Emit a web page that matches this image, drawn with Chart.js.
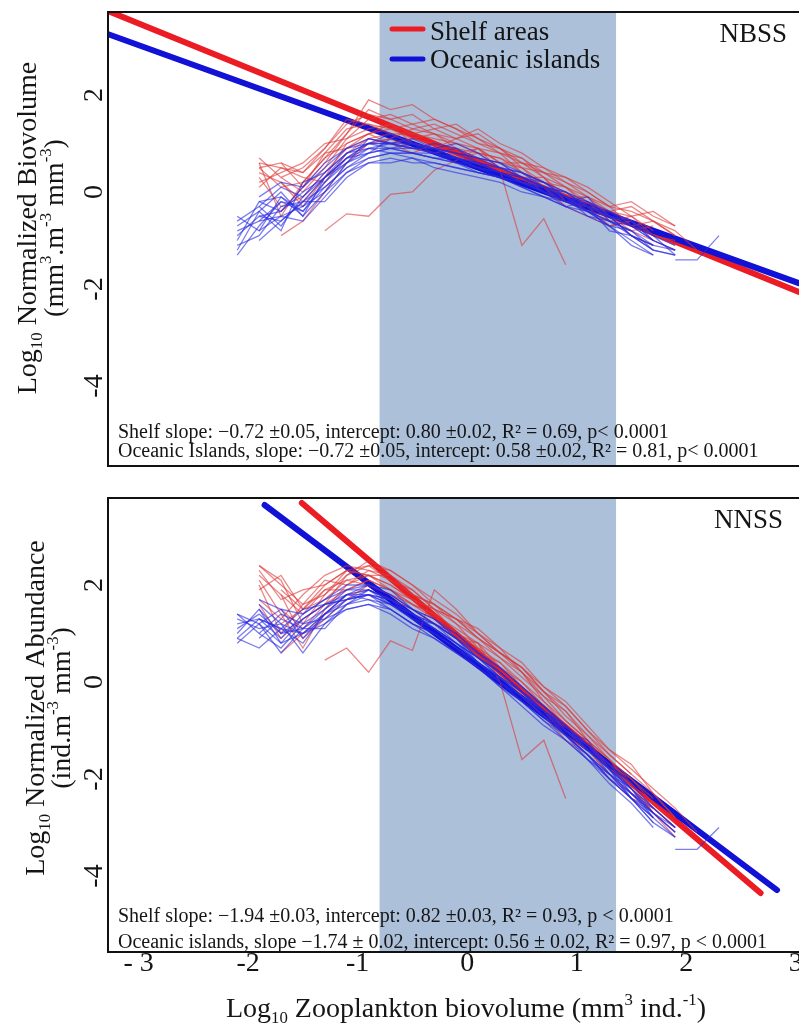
<!DOCTYPE html>
<html>
<head>
<meta charset="utf-8">
<script src="https://cdn.jsdelivr.net/npm/chart.js@4.4.1/dist/chart.umd.min.js"></script>
<style>
  html, body { margin: 0; padding: 0; background: #fff; }
  #wrap { position: relative; width: 799px; height: 1024px; overflow: hidden; }
  #nbss { position: absolute; left: 0; top: 0; }
  #nnss { position: absolute; left: 0; top: 480px; }
</style>
</head>
<body>
<div id="wrap">
  <canvas id="nbss" width="840" height="480"></canvas>
  <canvas id="nnss" width="840" height="544"></canvas>
</div>
<script>
// size classes (log10 zooplankton biovolume) shared by every spectrum
const sizeBins = [-2.1, -1.9, -1.7, -1.5, -1.3, -1.1, -0.9, -0.7, -0.5, -0.3, -0.1, 0.1, 0.3, 0.5, 0.7, 0.9, 1.1, 1.3, 1.5, 1.7, 1.9, 2.1, 2.3];

// NBSS, one row per station
const nbssShelf = [
    [null, 0.7, 0.3, 0.5, 0.9, 1.4, 1.6, 1.5, 1.3, 1.4, 1.2, 1.0, 0.9, 0.6, 0.5, 0.2, -0.1, -0.4, -0.5, -0.8, null, null, null],
    [null, 0.5, 0.6, 0.1, 0.6, 1.2, 1.9, 1.7, 1.8, 1.5, 1.3, 1.1, 0.8, 0.7, 0.3, 0.1, -0.3, -0.5, -0.7, -0.6, -0.9, null, null],
    [null, 0.3, -0.3, -0.1, 0.4, 0.9, 1.2, 1.3, 1.1, 1.0, 0.9, 0.8, 0.7, 0.4, 0.2, 0.0, -0.2, -0.6, -0.5, -0.9, -1.1, null, null],
    [null, 0.6, 0.5, 0.3, 0.2, 0.8, 1.1, 1.2, 1.2, 1.3, 1.4, 1.1, 0.9, 0.5, 0.4, 0.1, -0.1, -0.3, -0.7, -0.9, null, null, null],
    [null, null, null, null, -0.8, -0.45, -0.5, -0.05, 0.0, 0.45, 0.65, 0.9, 0.6, 0.5, 0.2, 0.0, -0.3, -0.4, -0.6, null, null, null, null],
    [null, 0.4, 0.2, -0.3, 0.3, 0.7, 1.0, 1.1, 0.9, 0.8, 0.9, 0.7, 0.6, 0.3, 0.0, -0.2, -0.4, -0.6, -0.8, -1.0, -1.2, null, null],
    [null, null, 0.6, 0.4, 0.8, 1.3, 1.4, 1.2, 1.0, 0.9, 0.8, 0.9, 0.45, -1.1, -0.55, -1.5, null, null, null, null, null, null, null],
    [null, 0.2, 0.4, 0.6, 1.0, 1.1, 1.3, 1.4, 1.2, 1.1, 1.0, 0.9, 0.8, 0.6, 0.4, 0.2, 0.0, -0.3, -0.4, -0.6, -0.8, -1.2, null],
    [null, null, -0.9, -0.6, 0.0, 0.6, 1.0, 1.1, 1.3, 1.2, 1.1, 1.3, 1.0, 0.8, 0.5, 0.3, 0.1, -0.2, -0.5, -0.4, -0.7, null, null],
    [null, 0.5, 0.1, 0.2, 0.7, 1.0, 1.2, 1.0, 1.1, 1.2, 0.9, 0.6, 0.5, 0.2, 0.1, -0.3, -0.5, -0.7, -0.6, -0.9, -1.0, null, null],
    [null, null, 0.3, 0.0, 0.5, 1.1, 1.5, 1.6, 1.4, 1.2, 1.0, 0.8, 0.7, 0.5, 0.1, -0.1, -0.4, -0.5, -0.9, -1.1, null, null, null],
    [null, 0.6, -0.5, 0.2, 0.7, 1.2, 1.7, 1.5, 1.6, 1.3, 1.1, 1.2, 0.9, 0.7, 0.4, 0.3, 0.0, -0.3, -0.2, -0.5, -0.7, null, null],
    [null, null, 0.2, -0.2, 0.3, 1.0, 1.2, 1.4, 1.0, 0.9, 1.1, 0.9, 0.6, 0.6, 0.3, -0.1, -0.1, -0.5, -0.8, -0.7, null, null, null],
    [null, 0.1, 0.5, 0.4, 0.9, 1.5, 1.4, 1.3, 1.4, 1.5, 1.3, 1.0, 0.8, 0.4, 0.2, 0.1, -0.2, -0.4, -0.3, -0.6, -0.9, null, null],
    [null, null, -0.4, 0.1, 0.8, 0.9, 1.1, 1.0, 0.8, 1.0, 0.7, 0.8, 0.5, 0.3, 0.3, -0.2, -0.3, -0.7, -0.6, null, null, null, null]
];
const nbssOceanic = [
    [-0.9, -0.5, -0.6, -0.2, 0.3, 0.7, 0.9, 1.0, 0.9, 0.9, 0.8, 0.6, 0.5, 0.3, 0.1, -0.1, -0.3, -0.5, -0.9, -1.1, null, null, null],
    [-1.3, -0.7, -0.2, -0.4, 0.1, 0.5, 0.8, 0.9, 0.8, 0.7, 0.6, 0.5, 0.4, 0.2, 0.0, -0.2, -0.4, -0.6, -0.8, -1.2, -1.3, null, null],
    [-0.6, -0.3, 0.1, -0.1, 0.4, 0.8, 1.0, 1.0, 1.1, 0.9, 0.8, 0.7, 0.5, 0.4, 0.2, -0.1, -0.2, -0.5, -0.7, -1.0, null, null, null],
    [null, -0.8, -0.5, -0.6, -0.1, 0.4, 0.7, 0.8, 0.8, 0.7, 0.7, 0.5, 0.3, 0.2, 0.1, -0.1, -0.5, -0.7, -1.0, -1.3, null, null, null],
    [-1.0, -0.2, -0.4, 0.1, 0.5, 0.9, 1.1, 1.0, 0.9, 1.0, 0.9, 0.7, 0.6, 0.3, 0.2, 0.0, -0.3, -0.4, -0.6, -0.9, -1.1, null, null],
    [null, -0.6, -0.2, -0.3, 0.2, 0.6, 0.8, 1.1, 1.0, 0.8, 0.7, 0.6, 0.5, 0.3, 0.1, -0.2, -0.3, -0.8, -0.9, -1.1, null, null, null],
    [-0.7, -0.4, 0.0, -0.5, 0.0, 0.6, 0.9, 0.9, 0.9, 0.8, 0.9, 0.6, 0.4, 0.2, 0.0, -0.2, -0.1, -0.6, -0.8, null, null, null, null],
    [null, -0.3, -0.7, -0.1, 0.3, 0.8, 1.0, 0.9, 0.8, 0.8, 0.6, 0.4, 0.3, 0.1, -0.1, -0.3, -0.5, -0.6, -0.9, -1.2, -1.3, null, null],
    [-1.1, -0.9, -0.3, -0.2, 0.1, 0.5, 0.7, 0.8, 0.7, 0.6, 0.5, 0.4, 0.3, 0.2, 0.0, -0.1, -0.3, -0.5, -0.7, -1.0, -1.2, null, null],
    [null, -0.1, 0.2, 0.1, 0.6, 0.9, 1.0, 1.0, 0.9, 0.9, 0.8, 0.7, 0.6, 0.4, 0.2, -0.1, -0.4, -0.5, -0.6, -1.0, null, null, null],
    [null, -0.5, -0.4, 0.0, 0.3, 0.7, 0.8, 0.9, 1.0, 0.8, 0.7, 0.6, 0.4, 0.3, 0.1, 0.0, -0.2, -0.4, -0.7, null, -1.4, -1.4, -0.9],
    [-0.8, -0.6, -0.5, -0.3, 0.0, 0.4, 0.6, 0.7, 0.6, 0.6, 0.5, 0.4, 0.3, 0.1, -0.1, -0.2, -0.4, -0.7, -0.8, -1.1, -1.2, null, null],
    [-0.5, -0.8, -0.1, -0.4, 0.2, 0.7, 1.0, 1.2, 1.0, 0.9, 1.0, 0.8, 0.5, 0.4, 0.1, 0.0, -0.3, -0.5, -0.6, -1.0, -1.2, null, null],
    [null, -1.0, -0.6, -0.2, -0.2, 0.3, 0.6, 0.6, 0.7, 0.5, 0.4, 0.3, 0.2, 0.0, -0.1, -0.3, -0.4, -0.7, -1.1, -1.3, null, null, null],
    [-1.2, -0.4, -0.8, 0.2, 0.4, 0.8, 0.9, 0.8, 0.8, 0.7, 0.6, 0.6, 0.4, 0.2, 0.1, -0.1, -0.4, -0.6, -0.7, -0.9, -1.3, null, null],
    [null, -0.2, -0.1, -0.5, 0.3, 0.6, 1.1, 1.0, 1.0, 0.9, 0.7, 0.5, 0.4, 0.3, 0.0, -0.3, -0.2, -0.5, -0.9, -1.2, null, null, null]
];

// NNSS, one row per station
const nnssShelf = [
    [null, 2.3, 1.7, 1.9, 2.0, 2.3, 2.4, 2.1, 1.8, 1.6, 1.3, 0.9, 0.6, 0.2, -0.2, -0.7, -1.1, -1.6, -2.0, -2.4, null, null, null],
    [null, 2.4, 2.1, 1.2, 1.8, 2.2, 2.5, 2.3, 2.0, 1.7, 1.4, 1.0, 0.7, 0.4, -0.1, -0.5, -1.0, -1.5, -1.9, -2.3, -2.8, null, null],
    [null, 1.6, 0.9, 1.3, 1.6, 1.9, 2.1, 1.9, 1.6, 1.4, 1.1, 0.8, 0.5, 0.1, -0.3, -0.8, -1.2, -1.8, -2.1, -2.6, -3.0, null, null],
    [null, 2.1, 1.4, 0.7, 1.5, 2.0, 2.2, 2.0, 1.7, 1.5, 1.2, 0.7, 0.3, -0.1, -0.6, -1.0, -1.3, -1.7, -2.2, -2.7, null, null, null],
    [null, null, null, null, 0.45, 0.7, 0.2, 0.85, 0.65, 1.9, 1.5, 1.0, 0.6, 0.3, -0.2, -0.6, -1.1, -1.5, -1.9, null, null, null, null],
    [null, 1.9, 2.2, 1.5, 1.7, 2.1, 2.0, 1.8, 1.5, 1.2, 0.9, 0.6, 0.2, -0.2, -0.6, -1.1, -1.4, -1.9, -2.3, -2.7, -3.1, null, null],
    [null, null, 1.9, 1.5, 2.0, 2.3, 2.2, 2.0, 1.7, 1.3, 1.0, 0.8, 0.0, -1.6, -1.2, -2.4, null, null, null, null, null, null, null],
    [null, 1.7, 1.3, 1.8, 2.2, 2.4, 2.3, 2.1, 1.9, 1.5, 1.3, 1.0, 0.6, 0.3, -0.1, -0.4, -0.9, -1.4, -1.8, -2.2, -2.6, -3.1, null],
    [null, null, 0.6, 1.0, 1.4, 1.8, 1.9, 1.7, 1.5, 1.2, 0.9, 0.5, 0.2, -0.3, -0.7, -1.2, -1.5, -2.0, -2.4, -2.6, -3.0, null, null],
    [null, 2.2, 1.8, 1.4, 1.9, 2.1, 2.2, 1.9, 1.7, 1.5, 1.0, 0.7, 0.4, 0.0, -0.4, -0.9, -1.3, -1.7, -2.0, -2.5, -2.9, null, null],
    [null, null, 1.5, 1.1, 1.6, 2.2, 2.4, 2.3, 2.0, 1.6, 1.2, 0.9, 0.5, 0.2, -0.4, -0.8, -1.2, -1.6, -2.2, -2.6, null, null, null],
    [null, 2.0, 1.0, 1.6, 2.1, 2.0, 2.3, 2.2, 1.9, 1.5, 1.3, 0.9, 0.6, 0.3, -0.2, -0.5, -1.0, -1.4, -1.7, -2.3, -2.8, null, null],
    [null, null, 1.8, 0.9, 1.3, 1.7, 2.0, 1.8, 1.6, 1.3, 1.0, 0.6, 0.4, -0.1, -0.5, -1.0, -1.4, -1.9, -2.3, -2.5, null, null, null],
    [null, 2.4, 2.0, 1.6, 1.8, 2.3, 2.2, 2.2, 1.8, 1.6, 1.3, 1.1, 0.7, 0.2, -0.3, -0.6, -1.2, -1.6, -2.1, -2.7, -3.2, null, null],
    [null, null, 1.2, 1.5, 1.9, 1.9, 2.1, 1.9, 1.6, 1.4, 0.9, 0.8, 0.3, 0.0, -0.5, -1.0, -1.3, -1.8, -2.1, null, null, null, null]
];
const nnssOceanic = [
    [1.1, 1.4, 1.0, 1.3, 1.6, 1.8, 1.9, 1.7, 1.4, 1.2, 0.8, 0.5, 0.1, -0.3, -0.6, -1.1, -1.5, -1.9, -2.4, -2.8, null, null, null],
    [0.8, 1.2, 1.5, 0.9, 1.4, 1.7, 1.8, 1.6, 1.3, 1.0, 0.7, 0.4, 0.1, -0.2, -0.7, -1.0, -1.4, -1.8, -2.2, -2.7, -3.1, null, null],
    [1.4, 1.0, 0.7, 1.2, 1.5, 1.9, 2.0, 1.8, 1.5, 1.2, 0.9, 0.5, 0.2, -0.2, -0.5, -0.9, -1.3, -1.7, -2.3, -2.6, null, null, null],
    [null, 1.6, 1.2, 0.6, 1.2, 1.6, 1.8, 1.7, 1.3, 1.1, 0.8, 0.4, 0.0, -0.4, -0.7, -1.1, -1.6, -2.0, -2.4, -2.9, null, null, null],
    [1.2, 1.3, 0.9, 1.4, 1.7, 2.0, 2.0, 1.8, 1.5, 1.3, 1.0, 0.6, 0.3, -0.1, -0.5, -0.9, -1.4, -1.7, -2.1, -2.6, -3.0, null, null],
    [null, 0.9, 1.3, 1.1, 1.5, 1.8, 1.7, 1.6, 1.4, 1.1, 0.8, 0.5, 0.1, -0.3, -0.6, -1.0, -1.3, -1.9, -2.3, -2.8, null, null, null],
    [1.0, 1.5, 0.8, 1.0, 1.3, 1.7, 1.9, 1.7, 1.4, 1.2, 0.9, 0.4, 0.1, -0.2, -0.6, -1.0, -1.2, -1.8, -2.2, null, null, null, null],
    [null, 1.2, 0.6, 1.1, 1.4, 1.8, 1.8, 1.5, 1.2, 1.0, 0.7, 0.3, 0.0, -0.4, -0.8, -1.2, -1.6, -1.9, -2.4, -2.9, -3.2, null, null],
    [0.9, 0.7, 1.1, 1.0, 1.2, 1.5, 1.6, 1.5, 1.2, 0.9, 0.6, 0.3, -0.1, -0.4, -0.8, -1.1, -1.5, -2.0, -2.4, -2.8, -3.2, null, null],
    [null, 1.7, 1.5, 1.4, 1.7, 1.9, 1.9, 1.7, 1.5, 1.3, 0.9, 0.6, 0.3, -0.1, -0.5, -1.0, -1.4, -1.8, -2.2, -2.8, null, null, null],
    [null, 1.3, 1.1, 1.5, 1.6, 1.7, 1.8, 1.6, 1.4, 1.1, 0.8, 0.5, 0.2, -0.2, -0.6, -0.9, -1.3, -1.7, -2.2, null, -3.45, -3.45, -3.0],
    [1.3, 1.1, 1.2, 1.0, 1.4, 1.6, 1.7, 1.5, 1.2, 1.0, 0.7, 0.4, 0.0, -0.3, -0.7, -1.1, -1.5, -2.0, -2.3, -2.7, -3.0, null, null],
    [0.9, 1.3, 1.1, 0.8, 1.4, 1.8, 2.0, 1.9, 1.5, 1.2, 1.0, 0.6, 0.2, -0.2, -0.6, -1.0, -1.3, -1.8, -2.3, -2.7, -3.1, null, null],
    [null, 1.0, 1.4, 1.2, 1.3, 1.5, 1.6, 1.4, 1.1, 0.9, 0.6, 0.3, -0.1, -0.5, -0.9, -1.2, -1.6, -2.1, -2.5, -3.0, null, null, null],
    [1.4, 1.2, 0.8, 1.3, 1.6, 1.7, 1.8, 1.7, 1.4, 1.1, 0.8, 0.4, 0.1, -0.3, -0.7, -1.1, -1.5, -1.9, -2.2, -2.6, -3.0, null, null],
    [null, 1.5, 1.0, 1.1, 1.1, 1.6, 1.9, 1.6, 1.3, 1.2, 0.9, 0.5, 0.2, -0.2, -0.6, -0.9, -1.4, -1.8, -2.4, -2.7, null, null, null]
];

// regression line end points
const nbssFitX = [-3.3, 3.3];
const nbssShelfFitY = [3.75, -2.31];
const nbssOceanicFitY = [3.27, -2.10];
const nnssShelfFitX = [-1.51, 2.68];
const nnssShelfFitY = [3.69, -4.35];
const nnssOceanicFitX = [-1.85, 2.83];
const nnssOceanicFitY = [3.65, -4.29];

const shadedRange = [-0.8, 1.36];
const xTicks = [-3, -2, -1, 0, 1, 2, 3];
const xTickLabels = ['- 3', '-2', '-1', '0', '1', '2', '3'];
const yTicks = [2, 0, -2, -4];
const yTickLabels = ['2', '0', '-2', '-4'];
const legendLabels = ['Shelf areas', 'Oceanic islands'];

const nbssStats = [
    'Shelf slope: \u22120.72 \u00b10.05, intercept: 0.80 \u00b10.02, R\u00b2 = 0.69, p< 0.0001',
    'Oceanic Islands, slope: \u22120.72 \u00b10.05, intercept: 0.58 \u00b10.02, R\u00b2 = 0.81, p< 0.0001'
];
const nnssStats = [
    'Shelf slope: \u22121.94 \u00b10.03, intercept: 0.82 \u00b10.03, R\u00b2 = 0.93, p < 0.0001',
    'Oceanic islands, slope \u22121.74 \u00b1 0.02, intercept: 0.56 \u00b1 0.02, R\u00b2 = 0.97, p < 0.0001'
];

const SERIF = '"Liberation Serif", "Times New Roman", serif';
const RED = 'rgb(236, 28, 36)';
const BLUE = 'rgb(18, 18, 214)';
const RED_THIN = 'rgba(222, 55, 55, 0.6)';
const BLUE_THIN = 'rgba(40, 40, 225, 0.6)';
const INK = '#151515';


// text with sub/superscript pieces, centred on x, baseline y
function drawRich(ctx, parts, x, y, size) {
    const pieces = parts.map(([t, k]) => {
        const s = k ? size * 0.6 : size;
        ctx.font = `${s}px ${SERIF}`;
        return { t, k, s, w: ctx.measureText(t).width };
    });
    const total = pieces.reduce((a, p) => a + p.w, 0);
    let cx = x - total / 2;
    ctx.textAlign = 'left';
    ctx.textBaseline = 'alphabetic';
    pieces.forEach(p => {
        ctx.font = `${p.s}px ${SERIF}`;
        const dy = p.k === 'sub' ? size * 0.2 : (p.k === 'sup' ? -size * 0.42 : 0);
        ctx.fillText(p.t, cx, y + dy);
        cx += p.w;
    });
}

function rotated(ctx, x, y, fn) {
    ctx.save();
    ctx.translate(x, y);
    ctx.rotate(-Math.PI / 2);
    fn();
    ctx.restore();
}

function makeDecor(cfg) {
    return {
        id: 'decor',
        beforeDatasetsDraw(chart) {
            const { ctx, chartArea, scales } = chart;
            const x0 = scales.x.getPixelForValue(shadedRange[0]);
            const x1 = scales.x.getPixelForValue(shadedRange[1]);
            ctx.save();
            ctx.fillStyle = '#adc0da';
            ctx.fillRect(x0, chartArea.top, x1 - x0, chartArea.bottom - chartArea.top);
            ctx.restore();
        },
        afterDraw(chart) {
            const { ctx, chartArea, scales } = chart;
            ctx.save();

            // frame
            ctx.strokeStyle = '#111';
            ctx.lineWidth = 2;
            ctx.strokeRect(chartArea.left, chartArea.top, chartArea.right - chartArea.left, chartArea.bottom - chartArea.top);

            ctx.fillStyle = INK;

            // y tick labels, rotated
            yTicks.forEach((v, i) => {
                rotated(ctx, 95, scales.y.getPixelForValue(v), () => {
                    ctx.font = `28px ${SERIF}`;
                    ctx.textAlign = 'center';
                    ctx.textBaseline = 'middle';
                    ctx.fillText(yTickLabels[i], 0, 0);
                });
            });

            // y axis title, two lines
            cfg.yTitle.forEach((parts, i) => {
                rotated(ctx, cfg.yTitleX[i], cfg.yTitleY, () => drawRich(ctx, parts, 0, 0, 28));
            });

            // panel tag
            ctx.font = `27px ${SERIF}`;
            ctx.textAlign = 'right';
            ctx.textBaseline = 'alphabetic';
            ctx.fillText(cfg.tag, cfg.tagRight, cfg.tagY);

            // statistics
            ctx.font = `20px ${SERIF}`;
            ctx.textAlign = 'left';
            cfg.stats.forEach((s, i) => ctx.fillText(s, 118, cfg.statsY[i]));

            if (cfg.legend) {
                [RED, BLUE].forEach((c, i) => {
                    const ly = 29 + i * 30;
                    ctx.strokeStyle = c;
                    ctx.lineWidth = 5;
                    ctx.lineCap = 'round';
                    ctx.beginPath();
                    ctx.moveTo(392, ly);
                    ctx.lineTo(423, ly);
                    ctx.stroke();
                    ctx.fillStyle = INK;
                    ctx.font = `27px ${SERIF}`;
                    ctx.fillText(legendLabels[i], 430, 40 + i * 28);
                });
            }

            if (cfg.xAxis) {
                ctx.font = `28px ${SERIF}`;
                ctx.textAlign = 'center';
                ctx.textBaseline = 'middle';
                xTicks.forEach((v, i) => {
                    ctx.fillText(xTickLabels[i], scales.x.getPixelForValue(v), 484);
                });
                drawRich(ctx, [['Log', ''], ['10', 'sub'], [' Zooplankton biovolume (mm', ''], ['3', 'sup'], [' ind.', ''], ['-1', 'sup'], [')', '']], 466, 537, 28);
            }
            ctx.restore();
        }
    };
}

function spectrum(values, color) {
    return {
        data: sizeBins.map((x, i) => ({ x: x, y: values[i] })),
        borderColor: color,
        borderWidth: 1.3,
        pointRadius: 0,
        spanGaps: false,
        clip: 0,
        order: 0
    };
}

function fitLine(xs, ys, color, order) {
    return {
        data: xs.map((x, i) => ({ x: x, y: ys[i] })),
        borderColor: color,
        borderWidth: 6,
        borderCapStyle: 'round',
        pointRadius: 0,
        clip: 0,
        order: order
    };
}

function makePanel(id, yMin, yMax, padding, datasets, decor) {
    new Chart(document.getElementById(id).getContext('2d'), {
        type: 'line',
        data: { datasets: datasets },
        options: {
            responsive: false,
            animation: false,
            devicePixelRatio: 1,
            layout: { padding: padding },
            plugins: { legend: { display: false }, tooltip: { enabled: false } },
            scales: {
                x: { type: 'linear', min: -3.28, max: 3.3, display: false },
                y: { type: 'linear', min: yMin, max: yMax, display: false }
            }
        },
        plugins: [decor]
    });
}

document.addEventListener('DOMContentLoaded', () => {
    const topSets = [
        fitLine(nbssFitX, nbssShelfFitY, RED, 3),
        fitLine(nbssFitX, nbssOceanicFitY, BLUE, 2)
    ];
    nbssOceanic.forEach(v => topSets.push(spectrum(v, BLUE_THIN)));
    nbssShelf.forEach(v => topSets.push(spectrum(v, RED_THIN)));

    makePanel('nbss', -5.649, 3.711, { left: 108, right: 11.5, top: 12, bottom: 14 }, topSets, makeDecor({
        yTitle: [
            [['Log', ''], ['10', 'sub'], [' Normalized Biovolume', '']],
            [['(mm', ''], ['3', 'sup'], ['.m', ''], ['-3', 'sup'], [' mm', ''], ['-3', 'sup'], [')', '']]
        ],
        yTitleX: [36, 63],
        yTitleY: 228,
        tag: 'NBSS', tagRight: 787, tagY: 42,
        stats: nbssStats, statsY: [438, 457],
        legend: true, xAxis: false
    }));

    const bottomSets = [
        fitLine(nnssShelfFitX, nnssShelfFitY, RED, 3),
        fitLine(nnssOceanicFitX, nnssOceanicFitY, BLUE, 2)
    ];
    nnssOceanic.forEach(v => bottomSets.push(spectrum(v, BLUE_THIN)));
    nnssShelf.forEach(v => bottomSets.push(spectrum(v, RED_THIN)));

    makePanel('nnss', -5.567, 3.794, { left: 108, right: 11.5, top: 18, bottom: 72 }, bottomSets, makeDecor({
        yTitle: [
            [['Log', ''], ['10', 'sub'], [' Normalized Abundance', '']],
            [['(ind.m', ''], ['-3', 'sup'], [' mm', ''], ['-3', 'sup'], [')', '']]
        ],
        yTitleX: [44, 70],
        yTitleY: 228,
        tag: 'NNSS', tagRight: 783, tagY: 48,
        stats: nnssStats, statsY: [442, 468],
        legend: false, xAxis: true
    }));
});
</script>
</body>
</html>
